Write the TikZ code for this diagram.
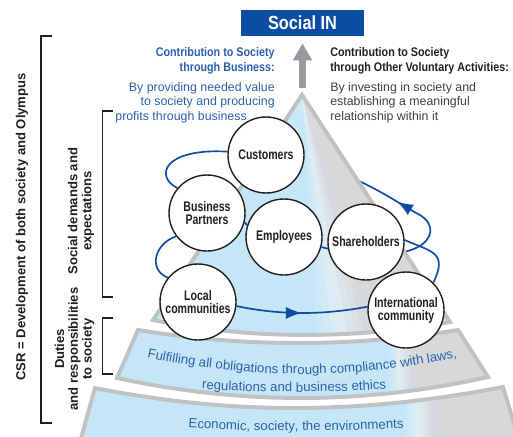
\documentclass[tikz,border=0pt]{standalone}
\usepackage{fontspec}
\setmainfont{Liberation Sans}
\newfontfamily\condfont{Liberation Sans}[FakeStretch=0.76]
\newfontfamily\headfont{Liberation Sans}[FakeStretch=0.86]
\usepackage{tikz}
\usetikzlibrary{arrows.meta,decorations.markings,decorations.text}
\usepackage{xcolor}

\definecolor{boxblue}{RGB}{12,77,162}
\definecolor{textblue}{RGB}{44,96,172}
\definecolor{orbitblue}{RGB}{18,76,160}
\definecolor{inkblack}{RGB}{35,31,32}
\definecolor{bodygray}{RGB}{65,64,66}
\definecolor{arrowgray}{RGB}{152,154,157}
\definecolor{rimgray}{RGB}{192,193,195}
\definecolor{fanblue}{RGB}{197,230,247}
\definecolor{fanlight}{RGB}{224,238,244}
\definecolor{fangray}{RGB}{214,216,218}

\pgfdeclarelayer{back}
\pgfsetlayers{back,main}

\pgfdeclarehorizontalshading{bandshade}{100bp}{color(0bp)=(fanblue); color(61.5bp)=(fanblue); color(63bp)=(fanlight); color(64.8bp)=(fangray); color(100bp)=(fangray)}

\newcommand{\bandfont}{\color{textblue}\fontsize{9.4}{11}\selectfont}
\def\conepath{(7.55,8.525) -- (11.25,2.85) .. controls (8.775,2.41) and (6.3,2.41) .. (3.825,2.9) -- cycle}

\begin{document}
\begin{tikzpicture}[>=Latex,
  party/.style={circle,draw=inkblack,fill=white,line width=1pt,minimum size=1.9cm,inner sep=0pt,align=center,text=inkblack,font=\condfont\bfseries\fontsize{9.9}{9.2}\selectfont},
  orbit/.style={draw=orbitblue,line width=1.2pt},
  midarrow/.style={postaction={decorate},decoration={markings,mark=at position #1 with {\arrow{Latex[length=0.4cm,width=0.3cm,color=orbitblue]}}}},
  rim/.style={draw=rimgray,line width=2.8pt},
  sidelabel/.style={rotate=90,align=center,text=inkblack,font=\bfseries\fontsize{9.3}{9.8}\selectfont},
  bracket/.style={draw=inkblack,line width=0.9pt}]

\useasboundingbox (0,0) rectangle (12.825,10.9);

%top box and arrow
\node[fill=boxblue,text=white,minimum width=3.075cm,minimum height=0.65cm,inner sep=0pt,font=\headfont\bfseries\fontsize{13.5}{14}\selectfont] (social) at (7.5625,10.325) {Social IN};
\coordinate (conetop) at (7.5625,8.7);
\draw[draw=arrowgray,line width=0.175cm,-{Triangle[width=0.45cm,length=0.425cm]},shorten >=0.175cm] (conetop) -- (social.south);

%headings
\node[anchor=east,align=right,inner sep=0pt,text=textblue,font=\headfont\bfseries\fontsize{8.9}{10.6}\selectfont] (bizhead) at (6.875,9.39) {Contribution to Society\\through Business:};
\node[anchor=east,align=right,inner sep=0pt,text=textblue,font=\fontsize{8.8}{10.3}\selectfont] (biztext) at (6.875,8.34) {By providing needed value\\to society and producing\\profits through business\hspace*{0.7cm}};
\node[anchor=west,align=left,inner sep=0pt,text=inkblack,font=\headfont\bfseries\fontsize{8.9}{10.6}\selectfont] (volhead) at (8.25,9.39) {Contribution to Society\\through Other Voluntary Activities:};
\node[anchor=west,align=left,inner sep=0pt,text=bodygray,font=\fontsize{8.8}{10.3}\selectfont] (voltext) at (8.25,8.34) {By investing in society and\\establishing a meaningful\\relationship within it};

%side labels
\node[sidelabel] (csr) at (0.55,5.225) {CSR = Development of both society and Olympus};
\node[sidelabel] (demands) at (2.025,5.625) {Social demands and\\expectations};
\node[sidelabel] (duties) at (1.8625,2.175) {Duties\\and responsibilities\\to society};
\draw[bracket] (1.3,10.0) -- (1.025,10.0) -- (1.025,0.325) -- (1.3,0.325);
\draw[bracket] (2.825,8.125) -- (2.5625,8.125) -- (2.5625,3.475) -- (2.825,3.475);
\draw[bracket] (2.825,2.95) -- (2.5625,2.95) -- (2.5625,1.55) -- (2.825,1.55);

%band texts
\path[decorate,decoration={text along path,text={|\bandfont|Fulfilling all obligations through compliance with laws,},text align=center}] (3.3,2.05) .. controls (6.133,1.383) and (8.967,1.383) .. (11.8,2.05);
\path[decorate,decoration={text along path,text={|\bandfont|regulations and business ethics},text align=center}] (4.4,1.225) .. controls (6.367,1.058) and (8.333,1.058) .. (10.3,1.225);
\path[decorate,decoration={text along path,text={|\bandfont|Economic, society, the environments},text align=center}] (4.2,0.24) .. controls (6.333,0.087) and (8.467,0.087) .. (10.6,0.24);

%stakeholders
\node[party] (cust) at (6.65,7.025) {Customers};
\node[party] (bp) at (5.175,5.575) {Business\\Partners};
\node[party] (emp) at (7.1,4.975) {Employees};
\node[party] (share) at (9.15,4.85) {Shareholders};
\node[party] (loc) at (4.95,3.35) {Local\\communities};
\node[party] (intl) at (10.15,3.15) {International\\community};

%orbit, front part
\draw[orbit,midarrow=0.5] (loc.-6) .. controls (6.983,3.02) and (8.092,3.02) .. (intl.175);
\draw[orbit] (intl.45) .. controls (11.2,4.6) and (10.8,4.6) .. (share.3);
\draw[orbit] (emp.-15) -- (share.190);
\draw[orbit] (bp.-14) -- (emp.162);
\draw[orbit] (bp.217) .. controls (3.85,4.8) and (3.7,4.15) .. (loc.141);
\draw[orbit] (cust.175) .. controls (4.1,7.2) and (3.85,6.5) .. (bp.140);

\begin{pgfonlayer}{back}
\begin{scope}
\clip (0,0) rectangle (12.825,10.9);

%bands
\shadedraw[shading=bandshade,rim] (3.45,2.65) .. controls (6.117,2.217) and (8.783,2.217) .. (11.45,2.65) -- (12.2,1.475) .. controls (9.108,0.78) and (6.017,0.78) .. (2.925,1.45) -- cycle;
\shadedraw[shading=bandshade,rim] (2.375,1.2) .. controls (5.775,0.53) and (8.975,0.53) .. (12.575,1.225) -- (13.125,-0.6) .. controls (9.375,-1.433) and (5.625,-1.433) .. (1.875,-0.6) -- cycle;

%orbit, back part
\coordinate (behind) at (8.4,6.6);
\draw[orbit,midarrow=0.55] (share.-15) .. controls (10.85,4.75) and (10.95,5.3) .. (10.45,5.55) .. controls (10.0,5.8) and (9.2,6.35) .. (behind);

%cone
\begin{scope}
\clip \conepath;
\foreach \i in {0,...,39} {
  \pgfmathsetmacro{\f}{(\i+0.5)/40}
  \pgfmathtruncatemacro{\wa}{min(100,max(0,(0.63-\f)/0.09*100))}
  \pgfmathtruncatemacro{\wb}{min(100,max(0,(0.72-\f)/0.09*100))}
  \fill[fanblue!\wa!fanlight!\wb!fangray] (7.55,8.525) -- ({2.9+9.23*\i/40},1.5) -- ({2.9+9.23*(\i+1.2)/40},1.5) -- cycle;
}
\end{scope}
\draw[rim] \conepath;

\end{scope}
\end{pgfonlayer}

\end{tikzpicture}
\end{document}
